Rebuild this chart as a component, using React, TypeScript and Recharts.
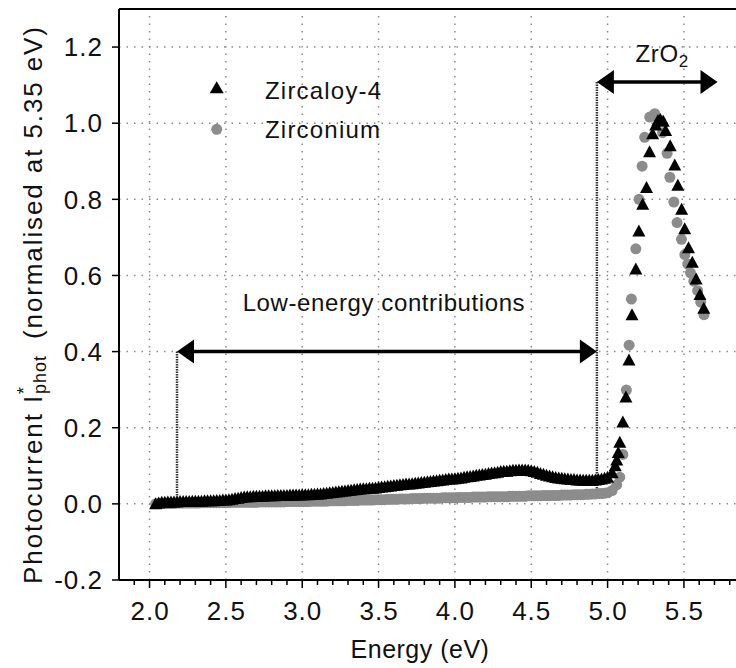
import React from 'react';
import {
  ScatterChart,
  Scatter,
  XAxis,
  YAxis,
  CartesianGrid,
  ReferenceLine,
  Legend,
} from 'recharts';

const FONT = '"Liberation Sans", Arial, Helvetica, sans-serif';
const INK = '#111';
const GRID = '#8a8a8a';
const GREY_DOT = '#8c8c8c';

const seriesNames = ['Zircaloy-4', 'Zirconium'];

const xMajorTicks = [2.0, 2.5, 3.0, 3.5, 4.0, 4.5, 5.0, 5.5];
const xAllTicks = [
  1.9, 2.0, 2.1, 2.2, 2.3, 2.4, 2.5, 2.6, 2.7, 2.8, 2.9, 3.0, 3.1, 3.2, 3.3, 3.4, 3.5, 3.6, 3.7, 3.8,
  3.9, 4.0, 4.1, 4.2, 4.3, 4.4, 4.5, 4.6, 4.7, 4.8, 4.9, 5.0, 5.1, 5.2, 5.3, 5.4, 5.5, 5.6, 5.7, 5.8,
];
const yTicks = [-0.2, 0.0, 0.2, 0.4, 0.6, 0.8, 1.0, 1.2];

// low-energy band, both samples measured on the same grid
const bandEnergy = [
  2.04, 2.06, 2.08, 2.1, 2.12, 2.14, 2.16, 2.18, 2.2, 2.22,
  2.24, 2.26, 2.28, 2.3, 2.32, 2.34, 2.36, 2.38, 2.4, 2.42,
  2.44, 2.46, 2.48, 2.5, 2.52, 2.54, 2.56, 2.58, 2.6, 2.62,
  2.64, 2.66, 2.68, 2.7, 2.72, 2.74, 2.76, 2.78, 2.8, 2.82,
  2.84, 2.86, 2.88, 2.9, 2.92, 2.94, 2.96, 2.98, 3.0, 3.02,
  3.04, 3.06, 3.08, 3.1, 3.12, 3.14, 3.16, 3.18, 3.2, 3.22,
  3.24, 3.26, 3.28, 3.3, 3.32, 3.34, 3.36, 3.38, 3.4, 3.42,
  3.44, 3.46, 3.48, 3.5, 3.52, 3.54, 3.56, 3.58, 3.6, 3.62,
  3.64, 3.66, 3.68, 3.7, 3.72, 3.74, 3.76, 3.78, 3.8, 3.82,
  3.84, 3.86, 3.88, 3.9, 3.92, 3.94, 3.96, 3.98, 4.0, 4.02,
  4.04, 4.06, 4.08, 4.1, 4.12, 4.14, 4.16, 4.18, 4.2, 4.22,
  4.24, 4.26, 4.28, 4.3, 4.32, 4.34, 4.36, 4.38, 4.4, 4.42,
  4.44, 4.46, 4.48, 4.5, 4.52, 4.54, 4.56, 4.58, 4.6, 4.62,
  4.64, 4.66, 4.68, 4.7, 4.72, 4.74, 4.76, 4.78, 4.8, 4.82,
  4.84, 4.86, 4.88, 4.9, 4.92, 4.94, 4.96, 4.98, 5.0,
];
const zircaloyBand = [
  0.0, 0.002, 0.004, 0.004, 0.005, 0.005, 0.005, 0.005, 0.006, 0.006,
  0.006, 0.006, 0.007, 0.007, 0.007, 0.007, 0.008, 0.008, 0.008, 0.008,
  0.009, 0.009, 0.01, 0.01, 0.011, 0.012, 0.014, 0.015, 0.017, 0.018,
  0.019, 0.019, 0.02, 0.02, 0.02, 0.02, 0.021, 0.021, 0.021, 0.021,
  0.022, 0.022, 0.022, 0.022, 0.023, 0.023, 0.023, 0.023, 0.024, 0.024,
  0.024, 0.025, 0.025, 0.026, 0.026, 0.027, 0.028, 0.029, 0.03, 0.031,
  0.032, 0.033, 0.034, 0.035, 0.036, 0.037, 0.038, 0.039, 0.04, 0.04,
  0.041, 0.041, 0.042, 0.043, 0.044, 0.045, 0.046, 0.047, 0.048, 0.049,
  0.05, 0.051, 0.052, 0.052, 0.053, 0.054, 0.055, 0.056, 0.057, 0.058,
  0.059, 0.06, 0.061, 0.062, 0.063, 0.064, 0.065, 0.065, 0.066, 0.067,
  0.068, 0.07, 0.071, 0.072, 0.073, 0.075, 0.076, 0.077, 0.078, 0.08,
  0.081, 0.082, 0.083, 0.085, 0.086, 0.086, 0.087, 0.088, 0.088, 0.089,
  0.089, 0.089, 0.088, 0.087, 0.085, 0.083, 0.08, 0.078, 0.075, 0.073,
  0.071, 0.069, 0.068, 0.067, 0.066, 0.065, 0.064, 0.064, 0.063, 0.063,
  0.062, 0.062, 0.062, 0.062, 0.063, 0.064, 0.065, 0.067, 0.07,
];
const zirconiumBand = [
  0.0, 0.001, 0.001, 0.001, 0.001, 0.001, 0.001, 0.002, 0.002, 0.002,
  0.002, 0.002, 0.002, 0.002, 0.002, 0.003, 0.003, 0.003, 0.003, 0.003,
  0.003, 0.003, 0.003, 0.003, 0.003, 0.004, 0.004, 0.004, 0.004, 0.004,
  0.004, 0.004, 0.004, 0.004, 0.005, 0.005, 0.005, 0.005, 0.005, 0.005,
  0.005, 0.005, 0.005, 0.006, 0.006, 0.006, 0.006, 0.006, 0.006, 0.006,
  0.006, 0.007, 0.007, 0.007, 0.007, 0.007, 0.007, 0.008, 0.008, 0.008,
  0.008, 0.008, 0.008, 0.009, 0.009, 0.009, 0.009, 0.01, 0.01, 0.01,
  0.01, 0.01, 0.011, 0.011, 0.011, 0.011, 0.012, 0.012, 0.012, 0.012,
  0.013, 0.013, 0.013, 0.013, 0.014, 0.014, 0.014, 0.014, 0.015, 0.015,
  0.015, 0.015, 0.015, 0.015, 0.016, 0.016, 0.016, 0.016, 0.016, 0.017,
  0.017, 0.017, 0.017, 0.017, 0.018, 0.018, 0.018, 0.018, 0.018, 0.019,
  0.019, 0.019, 0.019, 0.019, 0.019, 0.019, 0.02, 0.02, 0.02, 0.02,
  0.02, 0.02, 0.021, 0.021, 0.021, 0.021, 0.021, 0.022, 0.022, 0.022,
  0.022, 0.022, 0.022, 0.023, 0.023, 0.023, 0.023, 0.024, 0.024, 0.024,
  0.024, 0.025, 0.025, 0.026, 0.026, 0.027, 0.027, 0.028, 0.029,
];

// ZrO2 peak
const zircaloyPeakEnergy = [
  5.03, 5.05, 5.06, 5.07, 5.08, 5.1, 5.12, 5.14, 5.16, 5.185,
  5.205, 5.23, 5.255, 5.275, 5.295, 5.315, 5.33, 5.345, 5.365, 5.38,
  5.41, 5.44, 5.46, 5.485, 5.505, 5.53, 5.555, 5.58, 5.605, 5.63,
];
const zircaloyPeak = [
  0.082, 0.1, 0.115, 0.135, 0.162, 0.215, 0.281, 0.378, 0.497, 0.617,
  0.717, 0.787, 0.831, 0.925, 0.972, 0.995, 1.007, 1.01, 1.005, 0.981,
  0.941, 0.89, 0.837, 0.774, 0.723, 0.673, 0.635, 0.591, 0.55, 0.514,
];
const zirconiumPeakEnergy = [
  5.03, 5.06, 5.08, 5.1, 5.123, 5.141, 5.156, 5.185, 5.206, 5.226,
  5.243, 5.276, 5.309, 5.335, 5.36, 5.39, 5.408, 5.434, 5.455, 5.484,
  5.506, 5.525, 5.543, 5.565, 5.59, 5.61, 5.631,
];
const zirconiumPeak = [
  0.035, 0.05, 0.07, 0.13, 0.299, 0.417, 0.538, 0.67, 0.8, 0.887,
  0.963, 1.016, 1.025, 1.01, 0.975, 0.921, 0.858, 0.793, 0.739, 0.695,
  0.655, 0.63, 0.607, 0.585, 0.56, 0.53, 0.497,
];

// annotation positions in data units
const lowEnergyStart = 2.18;
const lowEnergyEnd = 4.93;
const lowEnergyLevel = 0.4;
const zro2End = 5.72;
const zro2Level = 1.108;

const toPoints = (xs: number[], ys: number[]) => xs.map((x, i) => ({ x, y: ys[i] }));

const zircaloyData = [...toPoints(bandEnergy, zircaloyBand), ...toPoints(zircaloyPeakEnergy, zircaloyPeak)];
const zirconiumData = [...toPoints(bandEnergy, zirconiumBand), ...toPoints(zirconiumPeakEnergy, zirconiumPeak)];

function Triangle(props: any) {
  const { cx, cy } = props;
  if (cx == null || cy == null) return null;
  return <polygon points={`${cx},${cy - 6.5} ${cx - 6.5},${cy + 5.5} ${cx + 6.5},${cy + 5.5}`} fill="#000" />;
}

function GreyDot(props: any) {
  const { cx, cy } = props;
  if (cx == null || cy == null) return null;
  return <circle cx={cx} cy={cy} r={5.5} fill={GREY_DOT} />;
}

function XTick(props: any) {
  const { x, y, payload } = props;
  const v = payload.value as number;
  const major = Math.abs(v * 2 - Math.round(v * 2)) < 1e-6;
  return (
    <g>
      <line x1={x} y1={y} x2={x} y2={y + (major ? 8 : 5)} stroke="#000" strokeWidth={1.5} />
      {major && (
        <text
          x={x + 0.5}
          y={y + 22}
          dy="0.71em"
          textAnchor="middle"
          fontFamily={FONT}
          fontSize={26}
          letterSpacing={1}
          fill={INK}
        >
          {v.toFixed(1)}
        </text>
      )}
    </g>
  );
}

function makeArrow(label: React.ReactNode, labelOffset: number, labelDx: number) {
  return function ArrowShape(props: any) {
    const { x1, y1, x2 } = props;
    const hl = 17;
    const hh = 12;
    return (
      <g>
        <line x1={x1 + hl - 1} y1={y1} x2={x2 - hl + 1} y2={y1} stroke="#000" strokeWidth={3.5} />
        <polygon points={`${x1},${y1} ${x1 + hl},${y1 - hh} ${x1 + hl},${y1 + hh}`} fill="#000" />
        <polygon points={`${x2},${y1} ${x2 - hl},${y1 - hh} ${x2 - hl},${y1 + hh}`} fill="#000" />
        <text
          x={(x1 + x2) / 2 + labelDx}
          y={y1 - labelOffset}
          textAnchor="middle"
          fontFamily={FONT}
          fontSize={24}
          letterSpacing={0.6}
          fill={INK}
        >
          {label}
        </text>
      </g>
    );
  };
}

const LowEnergyArrow = makeArrow('Low-energy contributions', 41, -3);
const Zro2Arrow = makeArrow(
  <>
    <tspan>ZrO</tspan>
    <tspan fontSize={17} dy={5}>2</tspan>
  </>,
  20,
  5,
);

function YLabel(props: any) {
  const { viewBox } = props;
  const cy = viewBox.y + viewBox.height / 2 + 10;
  return (
    <text
      transform={`translate(33,${cy}) rotate(-90)`}
      textAnchor="middle"
      dominantBaseline="central"
      fontFamily={FONT}
      fontSize={26}
      letterSpacing={1.9}
      fill={INK}
    >
      <tspan>Photocurrent I</tspan>
      <tspan fontSize={18} dy={-9}>*</tspan>
      <tspan fontSize={18} letterSpacing={1} dx={-9} dy={16}>phot</tspan>
      <tspan dx={16} dy={-7}>(normalised at 5.35 eV)</tspan>
    </text>
  );
}

function XLabel(props: any) {
  const { viewBox } = props;
  return (
    <text
      x={viewBox.x + 301}
      y={658}
      textAnchor="middle"
      fontFamily={FONT}
      fontSize={25}
      letterSpacing={0.5}
      fill={INK}
    >
      Energy (eV)
    </text>
  );
}

function LegendBox() {
  const text: React.CSSProperties = {
    position: 'absolute',
    left: 65,
    fontFamily: FONT,
    fontSize: 24,
    letterSpacing: 1.2,
    lineHeight: '30px',
    color: INK,
    whiteSpace: 'nowrap',
  };
  return (
    <div style={{ position: 'relative', width: 200, height: 80 }}>
      <svg width={40} height={80} style={{ position: 'absolute', left: 0, top: 0 }}>
        <polygon points="16.7,11.3 9.7,23.3 23.7,23.3" fill="#000" />
        <circle cx={16.7} cy={59.3} r={5.5} fill={GREY_DOT} />
      </svg>
      <div style={{ ...text, top: 6 }}>{seriesNames[0]}</div>
      <div style={{ ...text, top: 45 }}>{seriesNames[1]}</div>
    </div>
  );
}

export default function App() {
  return (
    <div style={{ width: 736, height: 668, overflow: 'hidden', position: 'relative', background: '#fff' }}>
      <style>{'body{margin:0}'}</style>
      <ScatterChart width={750} height={668} margin={{ top: 9, right: 5, bottom: 0, left: 0 }}>
        <CartesianGrid vertical={false} stroke={GRID} strokeDasharray="1.5 6" strokeWidth={1.5} />
        {xMajorTicks.map((t) => (
          <ReferenceLine key={t} x={t} stroke={GRID} strokeDasharray="1.5 6" strokeWidth={1.5} />
        ))}
        <XAxis
          type="number"
          dataKey="x"
          domain={[1.8, 5.9]}
          ticks={xAllTicks}
          interval={0}
          allowDataOverflow
          height={88}
          tickSize={0}
          tickMargin={0}
          tickLine={false}
          tick={<XTick />}
          axisLine={{ stroke: '#000', strokeWidth: 2 }}
          label={<XLabel />}
        />
        <YAxis
          type="number"
          dataKey="y"
          domain={[-0.2, 1.3]}
          ticks={yTicks}
          interval={0}
          allowDataOverflow
          width={119}
          tickSize={7}
          tickMargin={9}
          tickFormatter={(v: number) => v.toFixed(1)}
          tick={{ fontSize: 26, fill: INK, fontFamily: FONT, letterSpacing: 1 }}
          tickLine={{ stroke: '#000', strokeWidth: 1.5 }}
          axisLine={{ stroke: '#000', strokeWidth: 2 }}
          label={<YLabel />}
        />
        <ReferenceLine y={1.3} stroke="#000" strokeWidth={2} />
        <Scatter name={seriesNames[1]} data={zirconiumData} shape={<GreyDot />} isAnimationActive={false} />
        <Scatter name={seriesNames[0]} data={zircaloyData} shape={<Triangle />} isAnimationActive={false} />
        <ReferenceLine
          segment={[
            { x: lowEnergyStart, y: lowEnergyLevel },
            { x: lowEnergyStart, y: 0.003 },
          ]}
          stroke="#333"
          strokeWidth={2.5}
          strokeDasharray="1.5 1"
        />
        <ReferenceLine
          segment={[
            { x: lowEnergyEnd, y: zro2Level },
            { x: lowEnergyEnd, y: 0.015 },
          ]}
          stroke="#333"
          strokeWidth={2.5}
          strokeDasharray="1.5 1"
        />
        <ReferenceLine
          segment={[
            { x: lowEnergyStart, y: lowEnergyLevel },
            { x: lowEnergyEnd, y: lowEnergyLevel },
          ]}
          shape={LowEnergyArrow}
        />
        <ReferenceLine
          segment={[
            { x: lowEnergyEnd, y: zro2Level },
            { x: zro2End, y: zro2Level },
          ]}
          shape={Zro2Arrow}
        />
        <Legend
          layout="vertical"
          align="center"
          verticalAlign="middle"
          content={() => <LegendBox />}
          wrapperStyle={{ top: 70, left: 200, width: 200 }}
        />
      </ScatterChart>
    </div>
  );
}
